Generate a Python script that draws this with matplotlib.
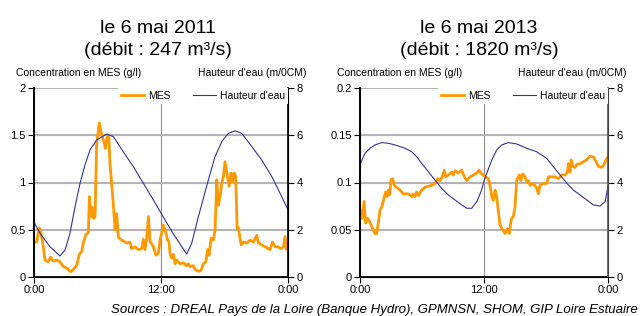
import numpy as np
import matplotlib
matplotlib.use('Agg')
import matplotlib.pyplot as plt

plt.rcParams['font.family'] = ['Liberation Sans', 'DejaVu Sans']

# ---- 6 mai 2011 ----
t_mes_2011 = [0.0, 0.25, 0.50, 0.66, 0.88, 1.04, 1.35, 1.58, 1.83, 2.14, 2.46, 2.77, 3.09,
              3.47, 3.72, 4.03, 4.28, 4.51, 4.66, 4.91, 5.14, 5.23, 5.36, 5.48, 5.61, 5.77,
              5.92, 6.17, 6.40, 6.62, 6.74, 6.93, 7.06, 7.18, 7.44, 7.66, 7.81, 7.97, 8.29,
              8.76, 9.07, 9.23, 9.55, 9.86, 10.18, 10.33, 10.49, 10.65, 10.81, 10.96, 11.28,
              11.53, 11.75, 11.91, 12.22, 12.44, 12.63, 12.76, 12.85, 13.01, 13.17, 13.33,
              13.48, 13.80, 14.11, 14.43, 14.59, 14.74, 15.06, 15.22, 15.53, 15.78, 16.00,
              16.23, 16.41, 16.54, 16.73, 16.95, 17.11, 17.27, 17.42, 17.58, 17.74, 17.89,
              18.05, 18.21, 18.43, 18.62, 18.75, 18.93, 19.06, 19.19, 19.31, 19.57, 19.79,
              20.10, 20.42, 20.73, 21.05, 21.20, 21.52, 21.83, 22.31, 22.53, 22.78, 23.03,
              23.35, 23.57, 23.72, 23.88, 24.0]
mes_2011 = [0.37, 0.37, 0.52, 0.47, 0.32, 0.18, 0.16, 0.21, 0.17, 0.18, 0.16, 0.11, 0.095,
            0.056, 0.08, 0.12, 0.24, 0.27, 0.36, 0.45, 0.47, 0.85, 0.64, 0.74, 0.62, 0.64,
            1.41, 1.63, 1.50, 1.43, 1.36, 1.48, 1.50, 1.20, 0.85, 0.50, 0.67, 0.42, 0.39,
            0.36, 0.37, 0.30, 0.32, 0.29, 0.30, 0.40, 0.29, 0.41, 0.64, 0.38, 0.32,
            0.23, 0.25, 0.39, 0.55, 0.48, 0.39, 0.37, 0.25, 0.20, 0.24, 0.14,
            0.18, 0.14, 0.15, 0.12, 0.14, 0.11, 0.12, 0.08, 0.06, 0.07, 0.14,
            0.16, 0.29, 0.23, 0.41, 0.39, 0.50, 1.03, 0.76, 0.85, 0.99, 1.06,
            1.22, 1.11, 0.96, 1.10, 1.01, 1.10, 1.06, 0.52, 0.52, 0.34, 0.37,
            0.36, 0.39, 0.37, 0.44, 0.36, 0.34, 0.32, 0.29, 0.37, 0.32, 0.32,
            0.30, 0.32, 0.43, 0.29, 0.37]
t_h_2011 = [0.0, 0.57, 1.51, 2.46, 2.93, 3.40, 3.88, 4.35, 4.82, 5.29, 5.92, 6.87, 7.50,
            8.44, 9.39, 10.33, 11.28, 12.20, 13.20, 14.43, 14.90, 15.53, 16.47, 17.10,
            17.74, 18.37, 19.00, 19.63, 20.58, 21.52, 22.47, 23.41, 24.0]
h_2011 = [2.32, 1.85, 1.28, 0.89, 1.14, 1.85, 2.98, 3.97, 4.74, 5.38, 5.80, 6.05, 5.94,
          5.30, 4.67, 3.97, 3.26, 2.55, 1.80, 0.97, 1.43, 2.55, 4.10, 5.09,
          5.73, 6.08, 6.19, 6.08, 5.52, 4.95, 4.25, 3.40, 2.84]

# ---- 6 mai 2013 ----
t_mes_2013 = [0.0, 0.23, 0.39, 0.55, 0.74, 0.87, 1.06, 1.29, 1.45, 1.61, 1.77, 1.94, 2.10,
              2.36, 2.48, 2.61, 2.74, 2.87, 3.00, 3.16, 3.32, 3.55, 3.87, 4.19, 4.68, 5.00,
              5.16, 5.32, 5.49, 5.65, 5.97, 6.29, 6.61, 6.94, 7.26, 7.52, 7.74, 7.97, 8.16,
              8.29, 8.55, 8.87, 9.03, 9.20, 9.52, 9.84, 10.10, 10.33, 10.65, 10.97, 11.30,
              11.52, 11.78, 12.04, 12.42, 12.58, 12.75, 12.91, 13.07, 13.23, 13.39, 13.55,
              13.81, 14.04, 14.26, 14.46, 14.59, 14.68, 14.84, 15.00, 15.17, 15.42, 15.56,
              15.75, 15.97, 16.13, 16.30, 16.46, 16.78, 17.10, 17.26, 17.42, 17.75, 18.07,
              18.23, 18.55, 18.88, 19.20, 19.52, 19.85, 20.07, 20.17, 20.33, 20.43, 20.59,
              20.81, 20.97, 21.30, 21.62, 21.94, 22.27, 22.59, 22.85, 23.07, 23.39, 23.62,
              23.81, 23.97, 24.0]
mes_2013 = [0.073, 0.062, 0.080, 0.057, 0.062, 0.060, 0.055, 0.050, 0.046, 0.046, 0.057,
            0.071, 0.074, 0.085, 0.090, 0.085, 0.092, 0.087, 0.103, 0.104, 0.097, 0.095,
            0.092, 0.088, 0.088, 0.085, 0.088, 0.085, 0.090, 0.086, 0.092, 0.095, 0.096,
            0.097, 0.099, 0.104, 0.102, 0.106, 0.113, 0.106, 0.108, 0.111, 0.108, 0.1125,
            0.110, 0.113, 0.106, 0.102, 0.106, 0.108, 0.110, 0.113, 0.109, 0.107, 0.104,
            0.097, 0.085, 0.081, 0.092, 0.085, 0.069, 0.055, 0.050, 0.046, 0.051, 0.046,
            0.058, 0.062, 0.064, 0.074, 0.103, 0.108, 0.102, 0.109, 0.106, 0.101, 0.102,
            0.097, 0.099, 0.094, 0.088, 0.097, 0.099, 0.099, 0.106, 0.106, 0.106, 0.104,
            0.108, 0.108, 0.111, 0.120, 0.111, 0.124, 0.117, 0.116, 0.119, 0.120, 0.122,
            0.124, 0.128, 0.127, 0.122, 0.117, 0.116, 0.119, 0.124, 0.127, 0.127]
t_h_2013 = [0.0, 0.48, 0.97, 1.45, 2.10, 2.74, 3.39, 4.36, 5.00, 5.49, 5.97, 6.61, 7.26,
            7.91, 8.55, 9.20, 9.84, 10.33, 10.81, 11.30, 11.71, 12.03, 12.27, 12.75,
            13.23, 13.72, 14.36, 15.17, 16.14, 17.11, 18.07, 18.71, 19.36, 20.01, 20.65,
            21.30, 21.95, 22.58, 23.23, 23.72, 24.0]
h_2013 = [4.75, 5.24, 5.45, 5.59, 5.69, 5.66, 5.59, 5.45, 5.30, 5.09, 4.81, 4.46, 4.10,
          3.75, 3.47, 3.26, 3.05, 2.91, 2.91, 3.19, 3.61, 4.10, 4.39, 4.95,
          5.38, 5.59, 5.69, 5.63, 5.45, 5.30, 5.02, 4.67, 4.32, 3.97, 3.68,
          3.47, 3.26, 3.05, 3.00, 3.19, 3.85]

titles = ["le 6 mai 2011\n(débit : 247 m³/s)", "le 6 mai 2013\n(débit : 1820 m³/s)"]
mes_ticks = [[0, 0.5, 1, 1.5, 2], [0, 0.05, 0.1, 0.15, 0.2]]
mes_labels = [['0', '0.5', '1', '1.5', '2'], ['0', '0.05', '0.1', '0.15', '0.2']]
h_ticks = [0, 2, 4, 6, 8]
x_ticks = [0, 12, 24]
x_labels = ['0:00', '12:00', '0:00']

ORANGE = '#ff9900'
BLUE = '#333399'
GRID = '#b4b4b4'

fig = plt.figure(figsize=(6.4, 3.16), dpi=100)
H = 316.0
W = 640.0
boxes = [(34, 288), (360, 608)]
top_px, bot_px = 88, 277
right_spine = ['black', '#555555']
title_x = [158, 479]
lab_left = [16, 337]
lab_right = [307, 627]
legend_left = [118, 438]

data = [(t_mes_2011, mes_2011, t_h_2011, h_2011), (t_mes_2013, mes_2013, t_h_2013, h_2013)]

for i, (tm, m, th, hh) in enumerate(data):
    x0, x1 = boxes[i]
    ax = fig.add_axes([x0 / W, 1 - bot_px / H, (x1 - x0) / W, (bot_px - top_px) / H])
    ax2 = ax.twinx()

    ax.plot(tm, m, color=ORANGE, lw=2.0, solid_joinstyle='round', label='MES')
    ax2.plot(th, hh, color=BLUE, lw=0.8, label="Hauteur d'eau")

    ax.set_xlim(0, 24)
    ax.set_ylim(mes_ticks[i][0], mes_ticks[i][-1])
    ax2.set_ylim(0, 8)
    ax.set_xticks(x_ticks)
    ax.set_xticklabels(x_labels)
    ax.set_yticks(mes_ticks[i])
    ax.set_yticklabels(mes_labels[i])
    ax2.set_yticks(h_ticks)

    ax.grid(axis='y', color=GRID, lw=1.5)
    ax.grid(axis='x', color='#8c8c8c', lw=0.8)
    ax.set_axisbelow(True)

    for a in (ax, ax2):
        a.spines['top'].set_visible(False)
        a.tick_params(direction='out', length=4, width=0.8, labelsize=8, pad=2)
    ax2.spines['right'].set_color(right_spine[i])
    ax2.spines['right'].set_linewidth(1.2)
    ax.spines['left'].set_linewidth(1.2)
    ax2.spines['left'].set_linewidth(1.2)
    ax.spines['bottom'].set_linewidth(1.2)

    handles = ax.get_lines()[:1] + ax2.get_lines()[:1]
    leg_w = (x1 - legend_left[i]) / (x1 - x0)
    leg = ax2.legend(handles, [h.get_label() for h in handles], ncol=2,
                     loc='upper right', bbox_to_anchor=(1 - leg_w, 0.884, leg_w, 0.116),
                     mode='expand', borderaxespad=0, frameon=True, fancybox=False,
                     edgecolor='none', facecolor='white', framealpha=1,
                     fontsize=7.5, handlelength=2.2, handletextpad=0.4,
                     columnspacing=1.0, borderpad=0.3)
    leg.set_zorder(10)

    fig.text(title_x[i] / W, 1 - 55 / H, titles[i], ha='center', va='baseline',
             fontsize=14, linespacing=1.35)
    fig.text(lab_left[i] / W, 1 - 76 / H, 'Concentration en MES (g/l)',
             ha='left', va='baseline', fontsize=7.5)
    fig.text(lab_right[i] / W, 1 - 76 / H, "Hauteur d'eau (m/0CM)",
             ha='right', va='baseline', fontsize=7.5)

fig.text(638 / W, 1 - 313 / H,
         'Sources : DREAL Pays de la Loire (Banque Hydro), GPMNSN, SHOM, GIP Loire Estuaire',
         ha='right', va='baseline', fontsize=9.5, style='italic')

fig.savefig('out.png', dpi=100)
